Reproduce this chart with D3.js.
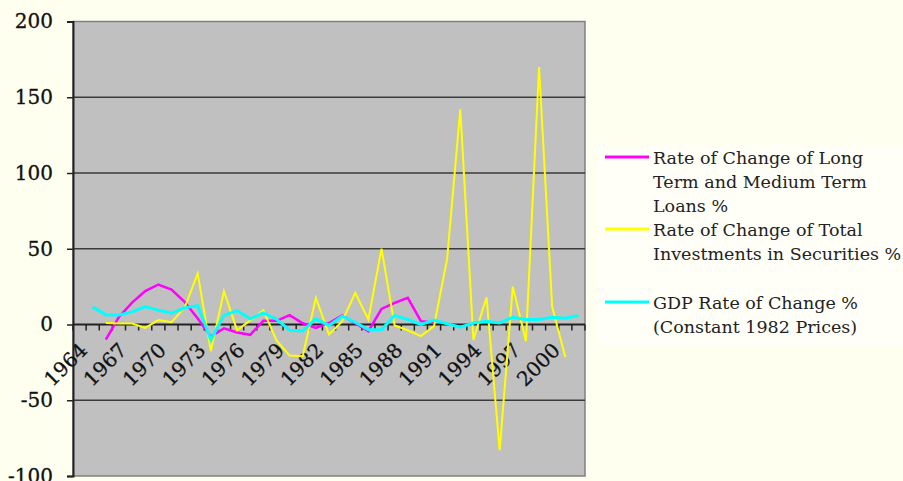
<!DOCTYPE html>
<html><head><meta charset="utf-8">
<script src="https://cdn.jsdelivr.net/npm/d3@7"></script>
<style>
html,body{margin:0;padding:0;background:#fffff0;}
svg{display:block;}
</style></head>
<body>
<svg id="chart" width="903" height="481"></svg>
<script>
const years = [1964,1965,1966,1967,1968,1969,1970,1971,1972,1973,1974,1975,1976,1977,1978,1979,1980,1981,1982,1983,1984,1985,1986,1987,1988,1989,1990,1991,1992,1993,1994,1995,1996,1997,1998,1999,2000,2001,2002];
const labelYears = [1964,1967,1970,1973,1976,1979,1982,1985,1988,1991,1994,1997,2000];
const loans = [null,null,-10,5,14.5,22,26.4,23,15,4,-8,-2.5,-5.3,-6.8,2.4,2.4,6.2,0.8,-2.2,1,6,0.8,-4.4,10.3,14.3,17.6,2.2,1.3,null,null,null,null,null,null,null,null,null,null,null];
const securities = [null,null,1,0.7,0.7,-2.2,2.9,1.5,11,33.7,-17.6,22,-3.8,2.7,9.4,-10.5,-20.5,-21,17.6,-6.6,2,20.9,3.3,50,-0.7,-3.8,-7.7,-1.1,43.5,142,-10,18,-83,25,-11,170,11.7,-21.5,null];
const gdp = [null,11.5,6.5,6.3,8.3,11.8,9.5,7.4,11,12.5,-10,6,9.2,3.8,7.7,3.5,-3.8,-4.2,3.7,-0.6,5.5,1.5,-3.5,-3.5,6,3.3,0,2.9,0.5,-1.8,1,2.2,1,4.8,3.3,3.3,4.8,4.2,6];
const yTicks = [-100,-50,0,50,100,150,200];
const seriesNames = [
  ["Rate of Change of Long","Term and Medium Term","Loans %"],
  ["Rate of Change of Total","Investments in Securities %"],
  ["GDP Rate of Change %","(Constant 1982 Prices)"]
];
const seriesColors = ["#ff00ff","#ffff00","#00ffff"];
const seriesWidths = [2.5,2,3];

const svg = d3.select("#chart");
const L = 73, R = 585, T = 21.5, B = 476;
const x = d3.scaleBand().domain(years).range([L,R]).paddingInner(0).paddingOuter(0);
const y = d3.scaleLinear().domain([-100,200]).range([B,T]);
const cx = d => x(d) + x.bandwidth()/2;

// plot background
svg.append("rect").attr("x",L).attr("y",T).attr("width",R-L).attr("height",B-T)
  .attr("fill","#c0c0c0").attr("stroke","#808080").attr("stroke-width",1.5);

// gridlines
svg.append("g").selectAll("line").data(yTicks.filter(v=>v!==0 && v!==200 && v!==-100)).join("line")
  .attr("x1",L).attr("x2",R).attr("y1",d=>y(d)).attr("y2",d=>y(d))
  .attr("stroke","#3a3a3a").attr("stroke-width",1.5);

// y axis
const yAxis = d3.axisLeft(y).tickValues(yTicks).tickSize(6).tickPadding(14)
  .tickFormat(d => String(d).replace("\u2212","-"));
const gy = svg.append("g").attr("transform",`translate(${L},0)`).call(yAxis);
gy.select(".domain").attr("stroke","#222").attr("stroke-width",2);
gy.selectAll(".tick line").attr("stroke","#222").attr("stroke-width",1.5);
gy.selectAll(".tick text").attr("font-family","'DejaVu Serif', serif").attr("font-size",20)
  .attr("fill","#111").attr("x",-20).attr("stroke","#111").attr("stroke-width",0.3);

// x axis at zero
const gx = svg.append("g").attr("transform",`translate(0,${y(0)})`);
gx.append("line").attr("x1",L).attr("x2",R).attr("y1",0).attr("y2",0).attr("stroke","#222").attr("stroke-width",2);
const bounds = years.map(d=>x(d)).concat([R]);
gx.selectAll("line.tk").data(bounds).join("line").attr("class","tk")
  .attr("x1",d=>d).attr("x2",d=>d).attr("y1",0).attr("y2",6).attr("stroke","#222").attr("stroke-width",1.5);
gx.selectAll("text").data(labelYears).join("text")
  .attr("transform",d=>`translate(${cx(d)+9},27) rotate(-45)`)
  .attr("text-anchor","end")
  .attr("font-family","'DejaVu Serif', serif").attr("font-size",20).attr("fill","#111")
  .attr("stroke","#111").attr("stroke-width",0.3)
  .text(d=>d);

// lines
const allSeries = [loans, securities, gdp];
allSeries.forEach((vals,i)=>{
  const line = d3.line().defined(d=>d[1]!==null).x(d=>cx(d[0])).y(d=>y(d[1]));
  svg.append("path").datum(years.map((yr,j)=>[yr,vals[j]]))
    .attr("d",line).attr("fill","none").attr("stroke",seriesColors[i])
    .attr("stroke-width",seriesWidths[i]).attr("stroke-linejoin","miter");
});

// legend
const lg = svg.append("g");
lg.append("rect").attr("x",598).attr("y",145).attr("width",305).attr("height",200).attr("fill","#fffff8");
const baselines = [[164,188,212],[236,260],[309,333]];
const swatchY = [157,229,302];
seriesNames.forEach((lines,i)=>{
  lg.append("line").attr("x1",605).attr("x2",649).attr("y1",swatchY[i]).attr("y2",swatchY[i])
    .attr("stroke",seriesColors[i]).attr("stroke-width",3);
  lines.forEach((t,k)=>{
    lg.append("text").attr("x",653).attr("y",baselines[i][k])
      .attr("font-family","'DejaVu Serif', serif").attr("font-size",17.5).attr("fill","#222")
      .text(t);
  });
});
</script>
</body></html>
